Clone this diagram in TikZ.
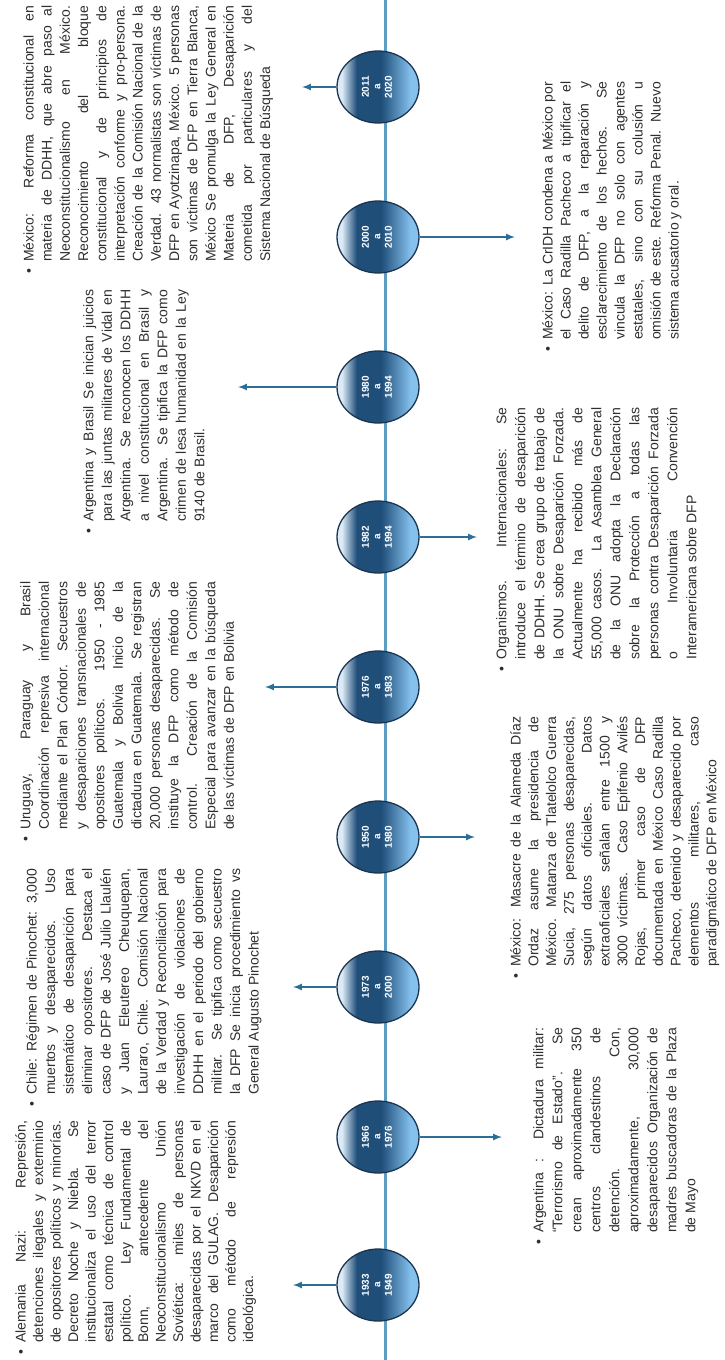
\documentclass[tikz,border=0pt]{standalone}
\usepackage{fontspec}
\setmainfont{Liberation Sans}
\usepackage{graphicx}
\usepackage{tikz}
\usetikzlibrary{shapes.geometric,arrows}

\definecolor{yrpale}{HTML}{DCEBF7}
\definecolor{yrdark}{HTML}{1F4E79}
\definecolor{yrlight}{HTML}{86C1EE}
\definecolor{yredge}{HTML}{1B3550}
\definecolor{tline}{HTML}{5D9DC2}
\definecolor{tarrow}{HTML}{2C6E96}
\definecolor{txt}{HTML}{2E2E2E}

\pgfdeclarehorizontalshading{yearfill}{100bp}{color(0bp)=(yrpale); color(28bp)=(yrpale); color(37bp)=(yrdark); color(52bp)=(yrdark); color(70bp)=(yrlight); color(100bp)=(yrlight)}

\newcommand{\yr}[2]{\rotatebox{90}{\begin{tabular}{@{}c@{}}#1\\a\\#2\end{tabular}}}
\newcommand{\bul}{\noindent\llap{\textbullet\hspace{7pt}}}

\begin{document}
\begin{tikzpicture}[x=1pt, y=-1pt, >=latex,
	yearbox/.style={ellipse, draw=yredge, line width=1.3pt, shading=yearfill,
		minimum width=82pt, minimum height=72pt, inner sep=0pt, text=white,
		font={\fontsize{10}{11.5}\selectfont\bfseries}},
	notebox/.style n args={2}{rotate=90, anchor=north west, inner sep=0pt,
		text width=#1, align=justify, text=txt,
		font={\fontsize{14}{#2}\selectfont\tolerance=10000\hyphenpenalty=10000\exhyphenpenalty=10000}},
	tl/.style={tline, line width=3pt},
	arr/.style={tarrow, line width=2pt}]
	\useasboundingbox (0,0) rectangle (724,1360);
%	\draw [help lines, step=50] (0,0) grid (724,1360);

	% eje del tiempo
	\coordinate (top) at (385,0);
	\coordinate (bot) at (385,1360);
	\draw [tl] (top) -- (bot);

	\node [yearbox] (y2011) at (378,87) {\yr{2011}{2020}};
	\node [yearbox] (y2000) at (378,237) {\yr{2000}{2010}};
	\node [yearbox] (y1980) at (378,387) {\yr{1980}{1994}};
	\node [yearbox] (y1982) at (378,537) {\yr{1982}{1994}};
	\node [yearbox] (y1976) at (378,687) {\yr{1976}{1983}};
	\node [yearbox] (y1950) at (378,837) {\yr{1950}{1980}};
	\node [yearbox] (y1973) at (378,987) {\yr{1973}{2000}};
	\node [yearbox] (y1966) at (378,1137) {\yr{1966}{1976}};
	\node [yearbox] (y1933) at (378,1285) {\yr{1933}{1949}};

	% flechas
	\coordinate (t2011) at (302,87);
	\coordinate (t2000) at (515,237);
	\coordinate (t1980) at (238,387);
	\coordinate (t1982) at (477,537);
	\coordinate (t1976) at (265,687);
	\coordinate (t1950) at (475,837);
	\coordinate (t1973) at (293,987);
	\coordinate (t1966) at (502,1137);
	\coordinate (t1933) at (293,1285);
	\draw [arr,->] (y2011.west) -- (t2011);
	\draw [arr,->] (y2000.east) -- (t2000);
	\draw [arr,->] (y1980.west) -- (t1980);
	\draw [arr,->] (y1982.east) -- (t1982);
	\draw [arr,->] (y1976.west) -- (t1976);
	\draw [arr,->] (y1950.east) -- (t1950);
	\draw [arr,->] (y1973.west) -- (t1973);
	\draw [arr,->] (y1966.east) -- (t1966);
	\draw [arr,->] (y1933.west) -- (t1933);

	% textos arriba
	\node [notebox={222pt}{17.5pt}] (alemania) at (15,1343) {\bul Alemania Nazi: Represión,\linebreak
detenciones ilegales y exterminio\linebreak
de opositores políticos y minorías.\linebreak
Decreto Noche y Niebla. Se\linebreak
institucionaliza el uso del terror\linebreak
estatal como técnica de control\linebreak
político. Ley Fundamental de\linebreak
Bonn, antecedente del\linebreak
Neoconstitucionalismo Unión\linebreak
Soviética: miles de personas\linebreak
desaparecidas por el NKVD en el\linebreak
marco del GULAG. Desaparición\linebreak
como método de represión\linebreak
ideológica.};

	\node [notebox={226pt}{18.5pt}] (chile) at (26,1095) {\bul Chile: Régimen de Pinochet: 3,000\linebreak
muertos y desaparecidos. Uso\linebreak
sistemático de desaparición para\linebreak
eliminar opositores. Destaca el\linebreak
caso de DFP de José Julio Llaulén\linebreak
y Juan Eleutereo Cheuquepan,\linebreak
Lauraro, Chile. Comisión Nacional\linebreak
de la Verdad y Reconciliación para\linebreak
investigación de violaciones de\linebreak
DDHH en el periodo del gobierno\linebreak
militar. Se tipifica como secuestro\linebreak
la DFP Se inicia procedimiento vs\linebreak
General Augusto Pinochet};

	\node [notebox={248pt}{18.5pt}] (uruguay) at (20,830) {\bul Uruguay, Paraguay y Brasil\linebreak
Coordinación represiva internacional\linebreak
mediante el Plan Cóndor. Secuestros\linebreak
y desapariciones transnacionales de\linebreak
opositores políticos. 1950 - 1985\linebreak
Guatemala y Bolivia Inicio de la\linebreak
dictadura en Guatemala. Se registran\linebreak
20,000 personas desaparecidas. Se\linebreak
instituye la DFP como método de\linebreak
control. Creación de la Comisión\linebreak
Especial para avanzar en la búsqueda\linebreak
de las víctimas de DFP en Bolivia};

	\node [notebox={232pt}{18.5pt}] (argbrasil) at (83,522) {\bul Argentina y Brasil Se inician juicios\linebreak
para las juntas militares de Vidal en\linebreak
Argentina. Se reconocen los DDHH\linebreak
a nivel constitucional en Brasil y\linebreak
Argentina. Se tipifica la DFP como\linebreak
crimen de lesa humanidad en la Ley\linebreak
9140 de Brasil.};

	\node [notebox={256pt}{18.2pt}] (mexreforma) at (23,262) {\bul México: Reforma constitucional en\linebreak
materia de DDHH, que abre paso al\linebreak
Neoconstitucionalismo en México.\linebreak
Reconocimiento del bloque\linebreak
constitucional y de principios de\linebreak
interpretación conforme y pro-persona.\linebreak
Creación de la Comisión Nacional de la\linebreak
Verdad. 43 normalistas son víctimas de\linebreak
DFP en Ayotzinapa, México. 5 personas\linebreak
son víctimas de DFP en Tierra Blanca,\linebreak
México Se promulga la Ley General en\linebreak
Materia de DFP, Desaparición\linebreak
cometida por particulares y del\linebreak
Sistema Nacional de Búsqueda};

	% textos abajo
	\node [notebox={205pt}{19pt}] (argdict) at (533,1233) {\bul Argentina : Dictadura militar:\linebreak
“Terrorismo de Estado”. Se\linebreak
crean aproximadamente 350\linebreak
centros clandestinos de\linebreak
detención. Con,\linebreak
aproximadamente, 30,000\linebreak
desaparecidos Organización de\linebreak
madres buscadoras de la Plaza\linebreak
de Mayo};

	\node [notebox={250pt}{17.8pt}] (mexmasacre) at (510,967) {\bul México: Masacre de la Alameda Díaz\linebreak
Ordaz asume la presidencia de\linebreak
México. Matanza de Tlatelolco Guerra\linebreak
Sucia, 275 personas desaparecidas,\linebreak
según datos oficiales. Datos\linebreak
extraoficiales señalan entre 1500 y\linebreak
3000 víctimas. Caso Epifenio Avilés\linebreak
Rojas, primer caso de DFP\linebreak
documentada en México Caso Radilla\linebreak
Pacheco, detenido y desaparecido por\linebreak
elementos militares, caso\linebreak
paradigmático de DFP en México};

	\node [notebox={252pt}{19pt}] (organismos) at (496,660) {\bul Organismos. Internacionales: Se\linebreak
introduce el término de desaparición\linebreak
de DDHH. Se crea grupo de trabajo de\linebreak
la ONU sobre Desaparición Forzada.\linebreak
Actualmente ha recibido más de\linebreak
55,000 casos. La Asamblea General\linebreak
de la ONU adopta la Declaración\linebreak
sobre la Protección a todas las\linebreak
personas contra Desaparición Forzada\linebreak
o Involuntaria Convención\linebreak
Interamericana sobre DFP};

	\node [notebox={258pt}{18pt}] (mexcidh) at (542,340) {\bul México: La CrIDH condena a México por\linebreak
el Caso Radilla Pacheco a tipificar el\linebreak
delito de DFP, a la reparación y\linebreak
esclarecimiento de los hechos. Se\linebreak
vincula la DFP no solo con agentes\linebreak
estatales, sino con su colusión u\linebreak
omisión de este. Reforma Penal. Nuevo\linebreak
sistema acusatorio y oral.};
\end{tikzpicture}
\end{document}
